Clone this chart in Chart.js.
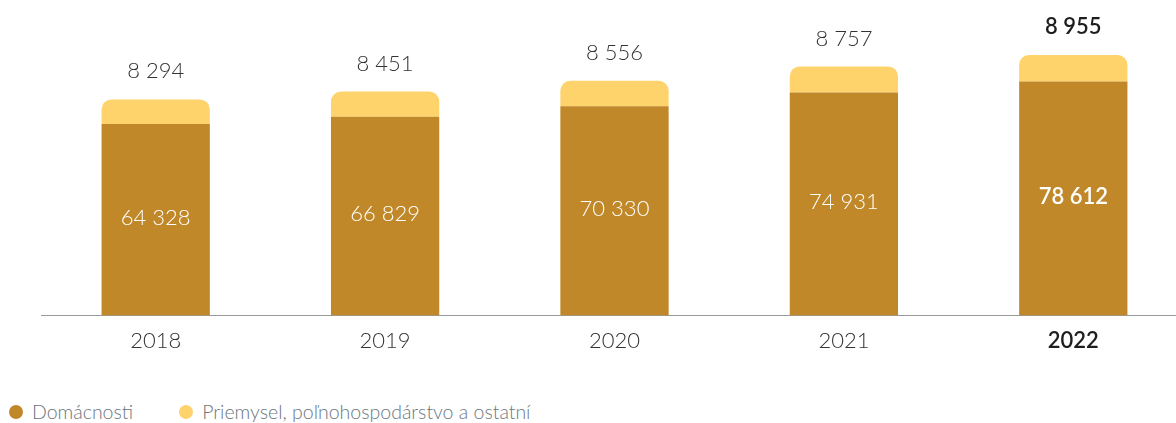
<!DOCTYPE html>
<html>
<head>
<meta charset="utf-8">
<script src="https://cdn.jsdelivr.net/npm/chart.js@4"></script>
<style>
  html, body { margin: 0; padding: 0; background: #fff; overflow: hidden; }
  #wrap { position: relative; width: 1188px; height: 381px; }
  #legend { position: absolute; left: 9px; top: 400px; font-family: Lato, "Open Sans", sans-serif;
            font-weight: 300; font-size: 19.5px; color: #6b7680; display: flex; }
  #legend span.item { display: flex; align-items: center; margin-right: 46px; }
  #legend span.dot { width: 14px; height: 14px; border-radius: 50%; display: inline-block; margin-right: 9px; }
</style>
</head>
<body>
<div id="wrap"><canvas id="chart" width="1188" height="381"></canvas></div>
<div id="legend"></div>
<script>
// data
const years = ['2018', '2019', '2020', '2021', '2022'];
const households = [64328, 66829, 70330, 74931, 78612];
const industry = [8294, 8451, 8556, 8757, 8955];
const seriesNames = ['Domácnosti', 'Priemysel, poľnohospodárstvo a ostatní'];
const colors = ['#c08828', '#ffd36b'];

const FONT = 'Lato, "Open Sans", sans-serif';

function fmt(n) {
    return String(n).replace(/\B(?=(\d{3})+(?!\d))/g, ' ');
}

// value labels: inside bottom bar, above top bar
const labelPlugin = {
    id: 'valueLabels',
    afterDatasetsDraw(chart) {
        const ctx = chart.ctx;
        ctx.save();
        ctx.textAlign = 'center';
        ctx.textBaseline = 'middle';
        const last = years.length - 1;

        chart.getDatasetMeta(0).data.forEach((bar, i) => {
            ctx.font = (i === last ? '600 ' : '300 ') + '22px ' + FONT;
            ctx.fillStyle = '#fff';
            ctx.fillText(fmt(households[i]), bar.x, (bar.y + bar.base) / 2 - 2);
        });
        chart.getDatasetMeta(1).data.forEach((bar, i) => {
            ctx.font = (i === last ? '600 ' : '300 ') + '22px ' + FONT;
            ctx.fillStyle = i === last ? '#1e1e1e' : '#333';
            ctx.fillText(fmt(industry[i]), bar.x, bar.y - 28);
        });
        ctx.restore();
    }
};

new Chart(document.getElementById('chart'), {
    type: 'bar',
    data: {
        labels: years,
        datasets: [{
            label: seriesNames[0],
            data: households,
            backgroundColor: colors[0],
            categoryPercentage: 1,
            barPercentage: 0.472,
            borderRadius: 0
        }, {
            label: seriesNames[1],
            data: industry,
            backgroundColor: colors[1],
            categoryPercentage: 1,
            barPercentage: 0.472,
            borderRadius: { topLeft: 10, topRight: 10, bottomLeft: 0, bottomRight: 0 },
            borderSkipped: 'start'
        }]
    },
    options: {
        responsive: false,
        animation: false,
        layout: { padding: { left: 41, right: 0, top: 0, bottom: 15 } },
        plugins: { legend: { display: false }, tooltip: { enabled: false } },
        scales: {
            x: {
                stacked: true,
                grid: { display: false, drawTicks: false },
                border: { display: true, color: '#9a9a9a', width: 1 },
                ticks: {
                    padding: 12,
                    color: ctx => ctx.index === 4 ? '#1e1e1e' : '#333',
                    font: ctx => ({ family: FONT, size: 22, weight: ctx.index === 4 ? '600' : '300' })
                }
            },
            y: {
                stacked: true,
                display: false,
                min: 0,
                max: 106000
            }
        }
    },
    plugins: [labelPlugin]
});

// legend
const legend = document.getElementById('legend');
seriesNames.forEach((name, i) => {
    const item = document.createElement('span');
    item.className = 'item';
    const dot = document.createElement('span');
    dot.className = 'dot';
    dot.style.background = colors[i];
    item.appendChild(dot);
    item.appendChild(document.createTextNode(name));
    legend.appendChild(item);
});
</script>
</body>
</html>
